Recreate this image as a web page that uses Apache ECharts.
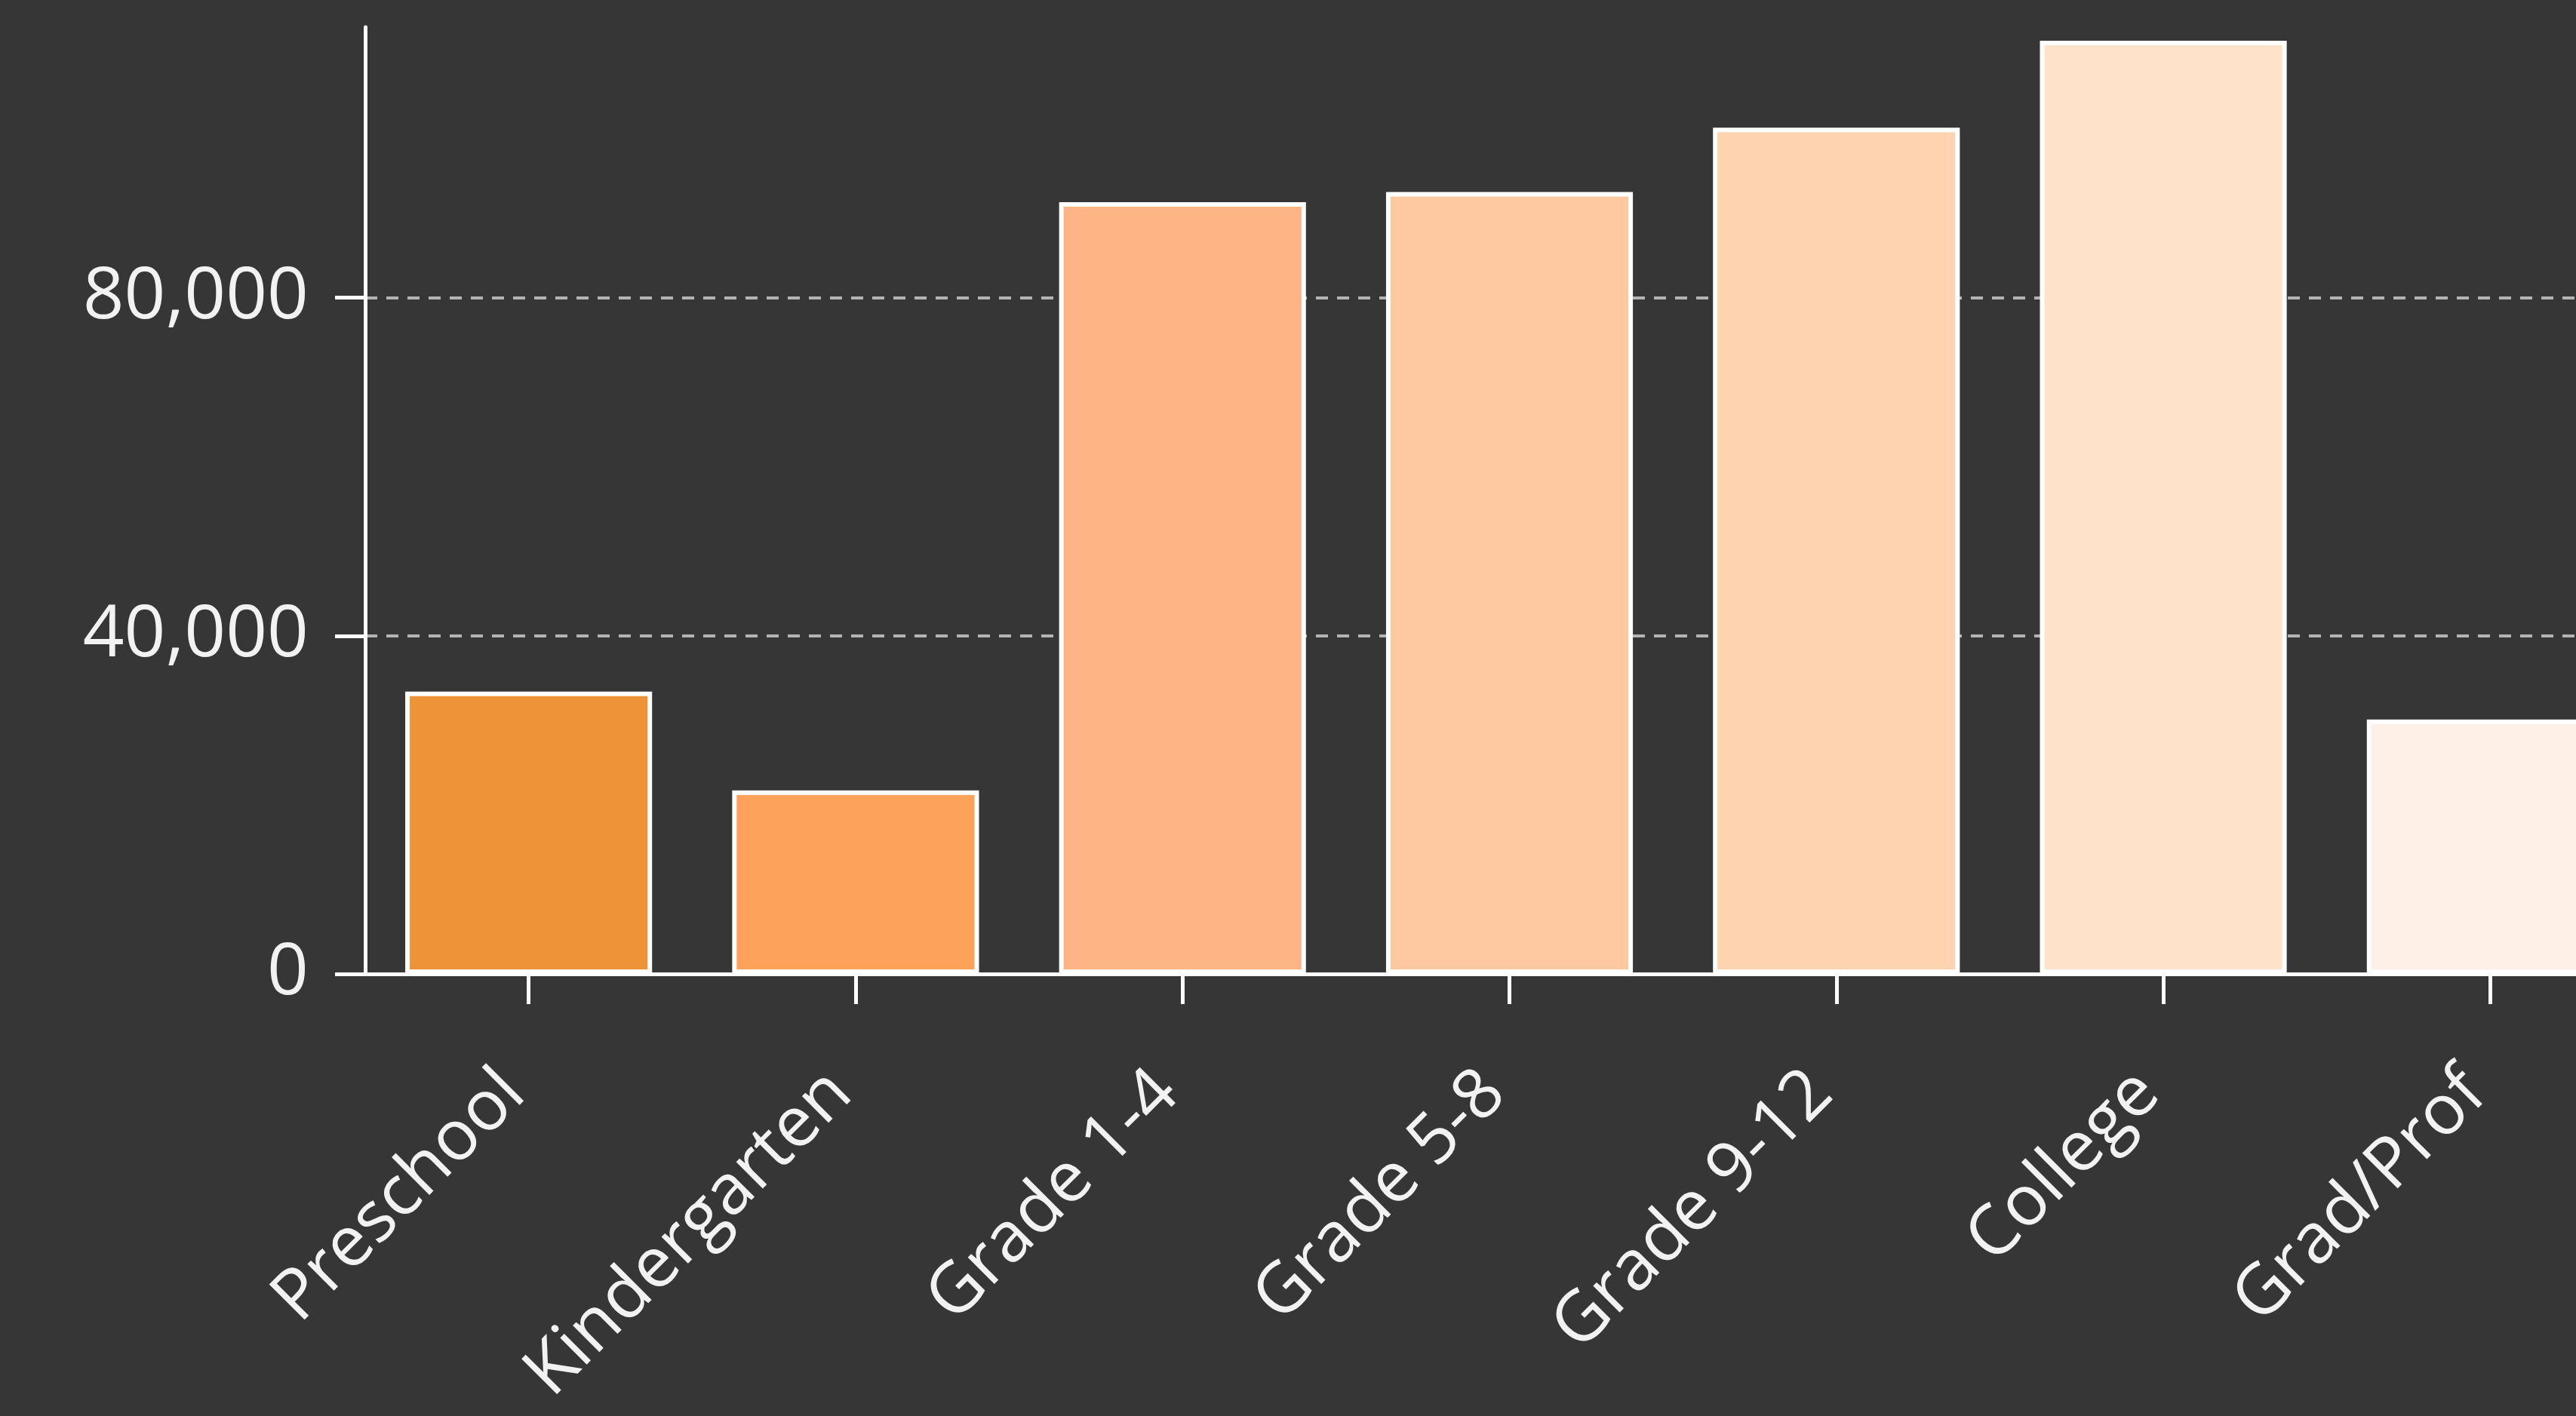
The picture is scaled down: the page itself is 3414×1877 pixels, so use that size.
<!DOCTYPE html>
<html>
<head>
<meta charset="utf-8">
<script src="https://cdn.jsdelivr.net/npm/echarts@6/dist/echarts.min.js"></script>
<style>
  html, body { margin: 0; padding: 0; background: #363636; }
  #chart { width: 3414px; height: 1877px; }
</style>
</head>
<body>
<div id="chart"></div>
<script>
// ---- data ----
const categories = ['Preschool', 'Kindergarten', 'Grade 1-4', 'Grade 5-8', 'Grade 9-12', 'College', 'Grad/Prof'];
const enrollment = [33400, 21700, 91300, 92500, 100100, 110400, 30100];
const yTickValues = [0, 40000, 80000];
const yAxisMax = 112000;

// ---- styles ----
const barColors = ['#EE9337', '#FDA25A', '#FDB585', '#FEC9A0', '#FED3B0', '#FEE2CA', '#FEF0E6'];
const FONT = 'Open Sans';
const TEXT = '#f2f2f2';

const chart = echarts.init(document.getElementById('chart'), null, { renderer: 'canvas' });

chart.setOption({
  backgroundColor: '#363636',
  animation: false,
  grid: {
    left: 484, top: 36, width: 3033, bottom: 586,
    containLabel: false,
    outerBoundsMode: 'none'
  },
  xAxis: {
    type: 'category',
    data: categories,
    boundaryGap: true,
    axisLine: { show: true, lineStyle: { color: '#ffffff', width: 5 } },
    axisTick: { show: true, alignWithLabel: true, length: 40, lineStyle: { color: '#ffffff', width: 5 } },
    axisLabel: {
      interval: 0,
      rotate: 45,
      margin: 124,
      align: 'right',
      verticalAlign: 'middle',
      padding: [0, 28, 0, 0],
      fontSize: 93,
      fontFamily: FONT,
      color: TEXT
    },
    splitLine: { show: false }
  },
  yAxis: {
    type: 'value',
    min: 0,
    max: yAxisMax,
    interval: 40000,
    axisLine: { show: true, lineStyle: { color: '#ffffff', width: 5 } },
    axisTick: { show: true, length: 40, customValues: yTickValues, lineStyle: { color: '#ffffff', width: 5 } },
    axisLabel: {
      customValues: yTickValues,
      margin: 75,
      fontSize: 96,
      fontFamily: FONT,
      color: TEXT,
      formatter: v => v.toLocaleString('en-US')
    },
    splitLine: {
      show: true,
      showMinLine: false,
      showMaxLine: true,
      lineStyle: { color: '#b3b3b3', width: 4, type: [16, 12] }
    }
  },
  series: [{
    type: 'bar',
    data: enrollment.map((v, i) => ({ value: v, itemStyle: { color: barColors[i] } })),
    barCategoryGap: '24.5%',
    itemStyle: { borderColor: '#ffffff', borderWidth: 6 }
  }]
});
</script>
</body>
</html>
